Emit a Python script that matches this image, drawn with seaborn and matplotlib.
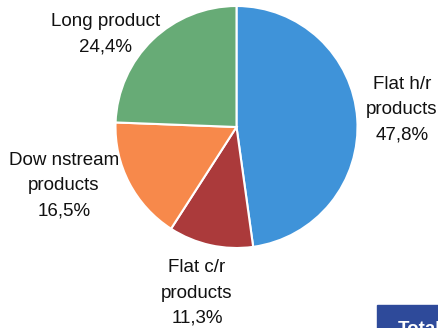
import matplotlib
matplotlib.use("Agg")
import matplotlib.pyplot as plt
from matplotlib.patches import Rectangle
import seaborn as sns

categories = ["Flat h/r\nproducts", "Flat c/r\nproducts", "Dow nstream\nproducts", "Long product"]
values = [47.8, 11.3, 16.5, 24.4]
value_labels = ["47,8%", "11,3%", "16,5%", "24,4%"]
colors = ["#3F93D9", "#AB3A3B", "#F7894B", "#67AB76"]

sns.set_theme(style="white")
plt.rcParams['font.family'] = ['Liberation Sans', 'DejaVu Sans']

W, H = 439, 328
fig = plt.figure(figsize=(W / 100, H / 100), dpi=100)
ax = fig.add_axes([0, 0, 1, 1])

cx, cy, r = 236.5, H - 127, 121
ax.pie(values, colors=colors, startangle=90, counterclock=False,
       center=(cx, cy), radius=r, frame=True,
       wedgeprops=dict(edgecolor="white", linewidth=1.5))
ax.set_xlim(0, W)
ax.set_ylim(0, H)
ax.set_aspect("equal")
ax.axis("off")

label_pos = [(402, H - 110), (197, H - 293), (64, H - 186), (106, H - 34)]
for cat, vl, (x, y) in zip(categories, value_labels, label_pos):
    ax.text(x, y, cat + "\n" + vl, ha="center", va="center", fontsize=13.5,
            color="#111111", linespacing=1.62)

ax.add_patch(Rectangle((377, -5), 70, H - 305 + 5, color="#2E4A9A", zorder=5))
ax.text(398, H - 329, "Total", color="white", fontsize=13.5, fontweight="bold",
        ha="left", va="center", zorder=6)

fig.savefig("out.png", dpi=100)
